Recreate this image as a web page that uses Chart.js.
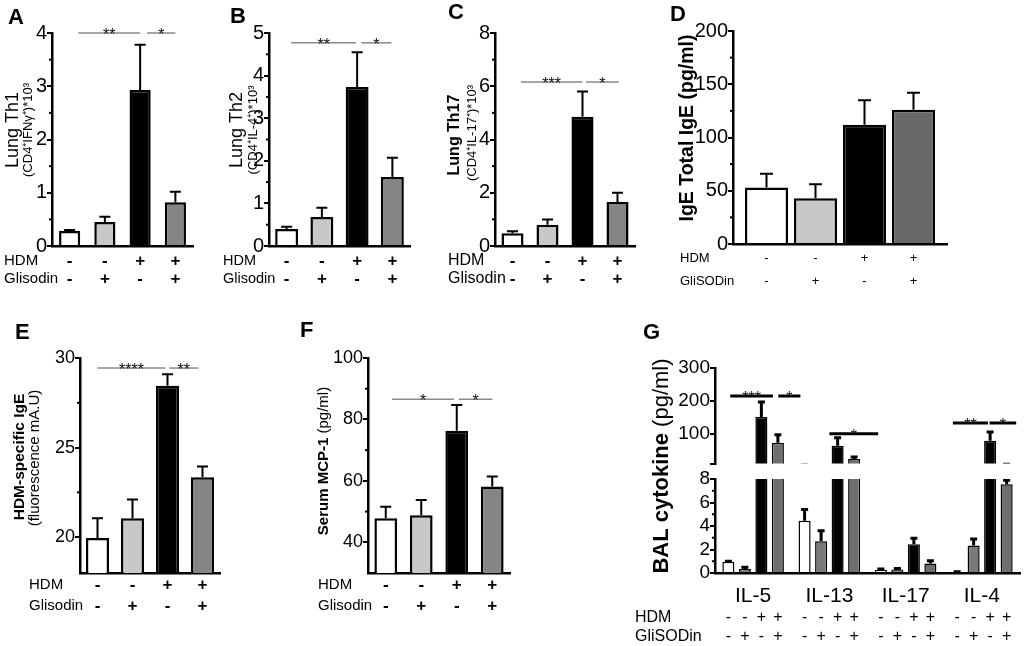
<!DOCTYPE html>
<html><head><meta charset="utf-8">
<script src="https://cdn.jsdelivr.net/npm/chart.js@4.4.0/dist/chart.umd.min.js"></script>
<style>
html,body{margin:0;padding:0;background:#fff;}
#wrap{position:relative;width:1026px;height:646px;overflow:hidden;background:#fff;}
canvas{position:absolute;}
.lt{position:absolute;font:bold 22px 'Liberation Sans',Arial,sans-serif;line-height:22px;color:#000;}
</style></head><body>
<div id="wrap">
<canvas id="cA"></canvas><canvas id="cB"></canvas><canvas id="cC"></canvas><canvas id="cD"></canvas>
<canvas id="cE"></canvas><canvas id="cF"></canvas><canvas id="cG2"></canvas><canvas id="cG1"></canvas>
<div class="lt" style="left:8px;top:6px">A</div>
<div class="lt" style="left:230px;top:5px">B</div>
<div class="lt" style="left:448px;top:1px">C</div>
<div class="lt" style="left:670px;top:3px">D</div>
<div class="lt" style="left:15px;top:321px">E</div>
<div class="lt" style="left:300px;top:319px">F</div>
<div class="lt" style="left:643px;top:321px">G</div>
</div>
<script>
// ---------------- data ----------------
const groups = ['Control', 'Glisodin', 'HDM', 'HDM+Glisodin'];
const hdmRow = ['-', '-', '+', '+'];
const gliRow = ['-', '+', '-', '+'];

const thA = [0.28, 0.45, 2.93, 0.82];
const thAErrTop = [0.30, 0.55, 3.78, 1.02];
const ticksA = [0, 1, 2, 3, 4];
const sigA = [[0.25, 2, 4.0, '**'], [2.2, 3, 4.0, '*']];

const thB = [0.40, 0.68, 3.73, 1.62];
const thBErrTop = [0.45, 0.90, 4.55, 2.07];
const ticksB = [0, 1, 2, 3, 4, 5];
const sigB = [[0.13, 1.97, 4.77, '**'], [2.12, 2.97, 4.77, '*']];

const thC = [0.48, 0.80, 4.85, 1.65];
const thCErrTop = [0.55, 1.00, 5.80, 2.00];
const ticksC = [0, 2, 4, 6, 8];
const sigC = [[0.24, 2.0, 6.16, '***'], [2.1, 3.04, 6.16, '*']];

const igeD = [53, 43, 112, 126];
const igeDErrTop = [66, 56, 135, 142];
const ticksD = [0, 50, 100, 150, 200];

const igeE = [19.95, 21.05, 28.45, 23.35];
const igeEErrTop = [21.05, 22.1, 29.1, 23.95];
const ticksE = [20, 25, 30];
const sigE = [[0, 1.94, 29.44, '****'], [2.05, 2.88, 29.44, '**']];

const mcpF = [47.8, 48.8, 76.3, 58.2];
const mcpFErrTop = [51.6, 53.8, 84.7, 61.4];
const ticksF = [40, 60, 80, 100];
const sigF = [[0.18, 1.92, 86.6, '*'], [2.06, 3.0, 86.6, '*']];

const cytokines = ['IL-5', 'IL-13', 'IL-17', 'IL-4'];
const gControl = [0.95, 4.45, 0.25, 0.08];
const gGlisodin = [0.35, 2.7, 0.3, 2.35];
const gHdm = [151, 64, 2.45, 79];
const gHdmGlisodin = [73, 24, 0.8, 7.55];
const gControlErrTop = [1.0, 5.4, 0.35, 0.1];
const gGlisodinErrTop = [0.5, 3.6, 0.38, 2.9];
const gHdmErrTop = [197, 88, 2.95, 106];
const gHdmGlisodinErrTop = [97, 30, 1.05, 7.9];
const ticksGTop = [10, 100, 200, 300];
const ticksGBottom = [0, 2, 4, 6, 8];
const sigG = [[-0.30, 0.26, 215, '***'], [0.33, 0.62, 215, '*'], [1.0, 1.64, 100, '*'], [2.62, 3.08, 133, '**'], [3.10, 3.45, 133, '*']];

// ---------------- rendering ----------------
const FONT = "'Liberation Sans', Arial, sans-serif";
Chart.defaults.font.family = FONT;
Chart.defaults.color = '#000';

const deco = {
  id: 'deco',
  afterDatasetsDraw(chart, args, o) {
    if (!o.err) return;
    const ctx = chart.ctx, ys = chart.scales.y, ca = chart.chartArea;
    ctx.save();
    if (o.clip) { ctx.beginPath(); ctx.rect(ca.left, ca.top, ca.right - ca.left, ca.bottom - ca.top); ctx.clip(); }
    ctx.strokeStyle = '#000'; ctx.lineWidth = o.errW; ctx.lineCap = 'butt';
    o.err.forEach((arr, di) => {
      const meta = chart.getDatasetMeta(di);
      arr.forEach((e, i) => {
        const el = meta.data[i]; if (!el) return;
        const x = el.x, yTop = ys.getPixelForValue(e), yBar = el.y;
        ctx.beginPath(); ctx.moveTo(x, yBar); ctx.lineTo(x, yTop);
        ctx.moveTo(x - o.cap / 2, yTop); ctx.lineTo(x + o.cap / 2, yTop); ctx.stroke();
      });
    });
    ctx.restore();
  },
  afterDraw(chart, args, o) {
    const ctx = chart.ctx, xs = chart.scales.x, ys = chart.scales.y, ca = chart.chartArea;
    ctx.save();
    if (o.minor) {
      ctx.strokeStyle = '#000'; ctx.lineWidth = 2;
      const t = ys.ticks.map(k => k.value);
      for (let i = 0; i < t.length - 1; i++) {
        const y = ys.getPixelForValue((t[i] + t[i + 1]) / 2);
        ctx.beginPath(); ctx.moveTo(ca.left - 3, y); ctx.lineTo(ca.left, y); ctx.stroke();
      }
    }
    (o.sig || []).forEach(s => {
      const x1 = xs.getPixelForValue(s[0]), x2 = xs.getPixelForValue(s[1]), y = ys.getPixelForValue(s[2]);
      ctx.strokeStyle = o.sigColor; ctx.lineWidth = o.sigW;
      ctx.beginPath(); ctx.moveTo(x1, y); ctx.lineTo(x2, y); ctx.stroke();
      ctx.fillStyle = '#111'; ctx.font = o.sigFont; ctx.textAlign = 'center'; ctx.textBaseline = 'alphabetic';
      ctx.fillText(s[3], (x1 + x2) / 2, y + o.sigDy);
    });
    if (o.rows) {
      ctx.fillStyle = '#000';
      o.rows.forEach(r => {
        const y = ca.bottom + r.dy;
        ctx.textBaseline = 'middle'; ctx.textAlign = 'left'; ctx.font = o.rowTitleFont;
        ctx.fillText(r.title, o.rowX, y);
        ctx.textAlign = 'center'; ctx.font = o.markFont;
        chart.data.datasets.forEach((ds, di) => {
          chart.getDatasetMeta(di).data.forEach((el, i) => {
            const m = o.perDataset ? r.marks[di] : r.marks[i];
            ctx.fillText(m, el.x, y);
          });
        });
      });
    }
    (o.ytitle || []).forEach(line => {
      ctx.save(); ctx.translate(line.x, line.cy); ctx.rotate(-Math.PI / 2);
      let total = 0;
      line.segs.forEach(sg => { ctx.font = sg.font; total += ctx.measureText(sg.t).width; });
      let cx = -total / 2; ctx.textBaseline = 'middle'; ctx.textAlign = 'left'; ctx.fillStyle = '#000';
      line.segs.forEach(sg => { ctx.font = sg.font; ctx.fillText(sg.t, cx, 0); cx += ctx.measureText(sg.t).width; });
      ctx.restore();
    });
    ctx.restore();
  }
};

function makeChart(id, box, area, cfg) {
  const cv = document.getElementById(id);
  cv.width = box[2]; cv.height = box[3];
  Object.assign(cv.style, { left: box[0] + 'px', top: box[1] + 'px', width: box[2] + 'px', height: box[3] + 'px' });
  const L = area[0] - box[0], T = area[1] - box[1], R = box[0] + box[2] - area[2], B = box[1] + box[3] - area[3];
  const xH = cfg.xH || 0;
  const hidden = cfg.hiddenTicks || [];
  const xScale = Object.assign({
    type: 'category', offset: true,
    grid: { display: false, drawTicks: false },
    border: { display: true, color: '#000', width: 2.5 },
    ticks: { display: false },
    afterFit: s => { s.height = xH; }
  }, cfg.x || {});
  return new Chart(cv, {
    type: 'bar',
    data: { labels: cfg.labels, datasets: cfg.datasets },
    options: {
      responsive: false, animation: false, devicePixelRatio: 1,
      layout: { padding: { left: 0, top: T, right: R, bottom: B - xH } },
      plugins: { legend: { display: false }, tooltip: { enabled: false }, deco: cfg.deco },
      scales: {
        x: xScale,
        y: {
          min: cfg.min, max: cfg.max,
          afterBuildTicks: s => { s.ticks = cfg.ticks.map(v => ({ value: v })); },
          afterFit: s => { s.width = L; },
          grid: { display: true, drawOnChartArea: false, drawTicks: true, tickLength: 5, color: '#000', lineWidth: 2 },
          border: { display: true, color: '#000', width: 2.5 },
          ticks: { font: { size: cfg.tickSize || 20 }, color: '#000', padding: 0, autoSkip: false,
            callback: v => hidden.includes(v) ? '' : String(v) }
        }
      }
    },
    plugins: [deco]
  });
}

const fillsStd = ['#ffffff', '#c8c8c8', '#000000', '#858585'];
function simpleDataset(vals, fills, bp, cp) {
  return [{ data: vals, backgroundColor: fills, borderColor: '#000', borderWidth: 2.5,
            borderSkipped: 'start', barPercentage: bp, categoryPercentage: cp || 1 }];
}
const rowsStd = (d1, d2) => [{ title: 'HDM', dy: d1, marks: hdmRow }, { title: 'Glisodin', dy: d2, marks: gliRow }];
const sigStd = { sigColor: '#8a8a8a', sigW: 1.5, sigFont: '16px ' + FONT, sigDy: 7 };

// A
makeChart('cA', [0, 0, 220, 300], [52, 33, 193, 246], {
  labels: groups, datasets: simpleDataset(thA, fillsStd, 0.6), min: 0, max: 4, ticks: ticksA,
  deco: Object.assign({ err: [thAErrTop], errW: 2, cap: 11, minor: true, sig: sigA,
    rows: rowsStd(15, 33), rowX: 4, rowTitleFont: '15px ' + FONT, markFont: 'bold 17px ' + FONT,
    ytitle: [{ x: 13, cy: 130, segs: [{ t: 'Lung Th1', font: '18px ' + FONT }] },
             { x: 28, cy: 130, segs: [{ t: '(CD4⁺IFNγ⁺)*10³', font: '13px ' + FONT }] }] }, sigStd)
});
// B
makeChart('cB', [220, 0, 220, 300], [269, 33, 410, 246], {
  labels: groups, datasets: simpleDataset(thB, fillsStd, 0.65), min: 0, max: 5, ticks: ticksB,
  deco: Object.assign({ err: [thBErrTop], errW: 2, cap: 11, minor: true, sig: sigB,
    rows: rowsStd(15, 33), rowX: 3, rowTitleFont: '14.5px ' + FONT, markFont: 'bold 17px ' + FONT,
    ytitle: [{ x: 17, cy: 130, segs: [{ t: 'Lung Th2', font: '18px ' + FONT }] },
             { x: 33, cy: 130, segs: [{ t: '(CD4⁺IL-4⁺)*10³', font: '13px ' + FONT }] }] }, sigStd)
});
// C
makeChart('cC', [440, 0, 215, 300], [495, 33, 635, 246], {
  labels: groups, datasets: simpleDataset(thC, fillsStd, 0.63), min: 0, max: 8, ticks: ticksC,
  deco: Object.assign({ err: [thCErrTop], errW: 2, cap: 11, minor: true, sig: sigC,
    rows: rowsStd(15, 33), rowX: 8, rowTitleFont: '16px ' + FONT, markFont: 'bold 17px ' + FONT,
    ytitle: [{ x: 15, cy: 135, segs: [{ t: 'Lung Th17', font: 'bold 16px ' + FONT }] },
             { x: 32, cy: 133, segs: [{ t: '(CD4⁺IL-17⁺)*10³', font: '13px ' + FONT }] }] }, sigStd)
});
// D (linear index axis so the bar pitch matches the figure)
makeChart('cD', [655, 0, 371, 300], [733, 31, 947, 244], {
  labels: groups,
  datasets: [{ data: igeD.map((v, i) => ({ x: i, y: v })), backgroundColor: ['#ffffff', '#c8c8c8', '#000000', '#686868'],
               borderColor: '#000', borderWidth: 2.5, borderSkipped: 'start', barPercentage: 0.88, categoryPercentage: 1 }],
  x: { type: 'linear', offset: false, min: -0.684, max: 3.684,
       afterBuildTicks: s => { s.ticks = groups.map((g, i) => ({ value: i })); } },
  min: 0, max: 200, ticks: ticksD,
  deco: { err: [igeDErrTop], errW: 2, cap: 13, minor: true,
    rows: [{ title: 'HDM', dy: 14, marks: hdmRow }, { title: 'GliSODin', dy: 37, marks: gliRow }],
    rowX: 25, rowTitleFont: '13px ' + FONT, markFont: '13px ' + FONT,
    ytitle: [{ x: 33, cy: 128, segs: [{ t: 'IgE Total IgE (pg/ml)', font: 'bold 19.5px ' + FONT }] }] }
});
// E
makeChart('cE', [0, 300, 300, 346], [80, 358, 220, 573], {
  labels: groups, datasets: simpleDataset(igeE, fillsStd, 0.66), min: 18, max: 30, ticks: ticksE, tickSize: 18,
  deco: Object.assign({ err: [igeEErrTop], errW: 2, cap: 11, minor: true, sig: sigE,
    rows: rowsStd(12, 33), rowX: 29, rowTitleFont: '15px ' + FONT, markFont: 'bold 17px ' + FONT,
    ytitle: [{ x: 20, cy: 157, segs: [{ t: 'HDM-specific IgE', font: 'bold 15.5px ' + FONT }] },
             { x: 35, cy: 158, segs: [{ t: '(fluorescence mA.U)', font: '15px ' + FONT }] }] }, sigStd)
});
// F
makeChart('cF', [300, 300, 320, 346], [368, 358, 510, 573], {
  labels: groups, datasets: simpleDataset(mcpF, fillsStd, 0.64), min: 30, max: 100, ticks: ticksF, tickSize: 18,
  deco: Object.assign({ err: [mcpFErrTop], errW: 2, cap: 11, minor: true, sig: sigF,
    rows: rowsStd(12, 33), rowX: 18, rowTitleFont: '15px ' + FONT, markFont: 'bold 17px ' + FONT,
    ytitle: [{ x: 24, cy: 161, segs: [{ t: 'Serum MCP-1', font: 'bold 15px ' + FONT }, { t: ' (pg/ml)', font: '15px ' + FONT }] }] }, sigStd)
});
// G (broken axis: two stacked charts sharing the same categories)
const gFills = ['#ffffff', '#7a7a7a', '#000000', '#6e6e6e'];
const gNames = ['Control', 'Glisodin', 'HDM', 'HDM+Glisodin'];
const gSeries = [gControl, gGlisodin, gHdm, gHdmGlisodin];
const gErr = [gControlErrTop, gGlisodinErrTop, gHdmErrTop, gHdmGlisodinErrTop];
const gSets = () => gSeries.map((s, i) => ({ label: gNames[i], data: s, backgroundColor: gFills[i], borderColor: '#000',
  borderWidth: 1.5, borderSkipped: 'start', barPercentage: 0.73, categoryPercentage: 0.866, clip: 0 }));

makeChart('cG2', [620, 300, 406, 346], [715, 479, 1020, 573], {
  labels: cytokines, datasets: gSets(), min: 0, max: 8, ticks: ticksGBottom, tickSize: 19, xH: 40,
  x: { ticks: { display: true, font: { size: 21 }, color: '#000', padding: 11 } },
  deco: { err: gErr, errW: 3, cap: 7, clip: true, minor: true,
    rows: [{ title: 'HDM', dy: 45, marks: hdmRow }, { title: 'GliSODin', dy: 64, marks: gliRow }], perDataset: true,
    rowX: 15, rowTitleFont: '16px ' + FONT, markFont: '16px ' + FONT,
    ytitle: [{ x: 42, cy: 166, segs: [{ t: 'BAL cytokine', font: 'bold 22px ' + FONT }, { t: ' (pg/ml)', font: '22px ' + FONT }] }] }
});
makeChart('cG1', [620, 300, 406, 346], [715, 368, 1020, 463.5], {
  labels: cytokines, datasets: gSets(), min: 10, max: 300, ticks: ticksGTop, tickSize: 19, hiddenTicks: [10],
  x: { display: false },
  deco: { err: gErr, errW: 3, cap: 7, clip: true, minor: false, sig: sigG,
    sigColor: '#000', sigW: 3, sigFont: '16px ' + FONT, sigDy: 7 }
});
</script>
</body></html>
